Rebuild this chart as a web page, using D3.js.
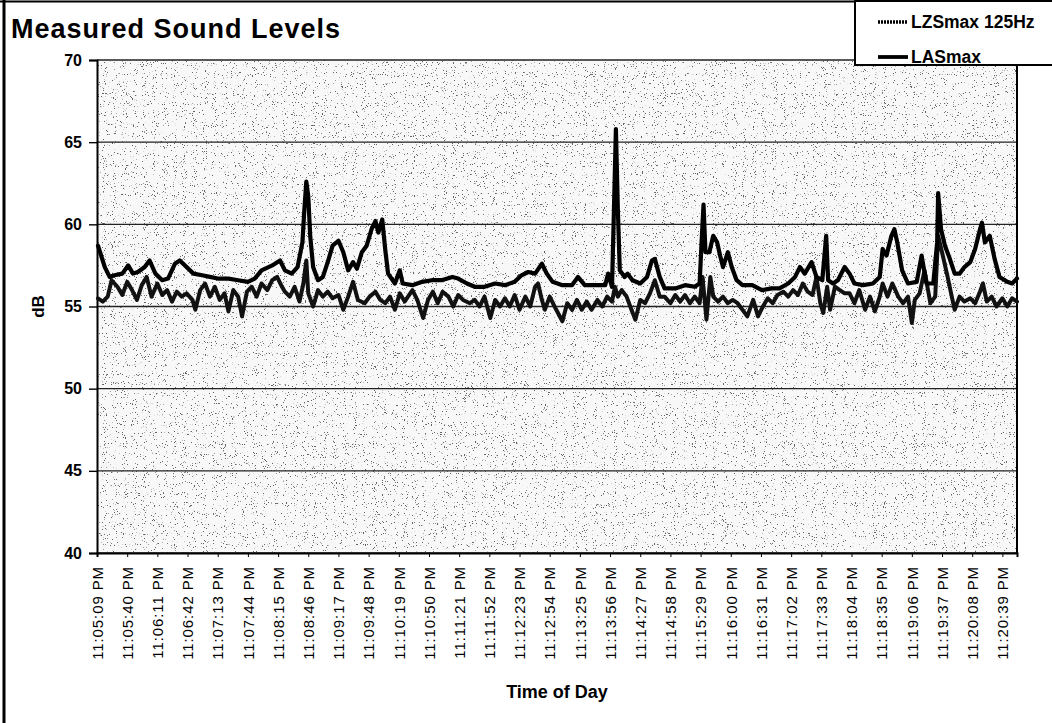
<!DOCTYPE html>
<html lang="en">
<head>
<meta charset="UTF-8">
<title>Measured Sound Levels</title>
<script src="https://d3js.org/d3.v7.min.js"></script>
<style>
    body { margin: 0; background: #fff; }
    svg text { font-family: "Liberation Sans", Arial, sans-serif; fill: #000; }
    .line { fill: none; stroke-linejoin: round; stroke-linecap: round; }
</style>
</head>
<body>
<div id="chart"></div>
<script>
// x tick labels (one every 31 s)
var tickLabels = ["11:05:09 PM", "11:05:40 PM", "11:06:11 PM", "11:06:42 PM", "11:07:13 PM",
    "11:07:44 PM", "11:08:15 PM", "11:08:46 PM", "11:09:17 PM", "11:09:48 PM", "11:10:19 PM",
    "11:10:50 PM", "11:11:21 PM", "11:11:52 PM", "11:12:23 PM", "11:12:54 PM", "11:13:25 PM",
    "11:13:56 PM", "11:14:27 PM", "11:14:58 PM", "11:15:29 PM", "11:16:00 PM", "11:16:31 PM",
    "11:17:02 PM", "11:17:33 PM", "11:18:04 PM", "11:18:35 PM", "11:19:06 PM", "11:19:37 PM",
    "11:20:08 PM", "11:20:39 PM"];

var yTicks = [40, 45, 50, 55, 60, 65, 70];

// LASmax: seconds after 11:05:09 PM, dB
var lasTime = [1, 8, 13, 18, 26, 32, 37, 42, 49, 54, 60, 67, 73, 80, 85, 92, 99, 108, 116, 124,
    135, 145, 155, 162, 169, 180, 188, 193, 200, 206, 211, 213, 215, 217, 219, 222, 227, 232, 237, 242,
    248, 253, 258, 263, 267, 272, 277, 282, 286, 289, 293, 296, 299, 306, 311, 314, 324, 334, 344, 354,
    365, 371, 380, 388, 398, 409, 419, 429, 436, 443, 450, 457, 462, 468, 478, 488, 494, 501, 511, 522,
    525, 529, 531, 533, 535, 537, 542, 545, 550, 558, 565, 570, 573, 578, 583, 594, 604, 614, 619, 621,
    623, 625, 629, 633, 637, 640, 643, 648, 652, 657, 663, 673, 683, 693, 701, 710, 717, 722, 727, 734,
    739, 745, 749, 751, 756, 761, 768, 773, 778, 787, 797, 804, 807, 811, 816, 819, 822, 827, 833, 842,
    847, 852, 859, 863, 864, 867, 871, 876, 881, 886, 891, 897, 902, 907, 909, 912, 917, 922, 927, 935,
    940, 945];
var lasVals = [58.7, 57.4, 56.8, 56.9, 57.0, 57.5, 57.0, 57.1, 57.4, 57.8, 57.0, 56.6, 56.7, 57.6, 57.8, 57.4, 57.0, 56.9, 56.8, 56.7,
    56.7, 56.6, 56.5, 56.7, 57.2, 57.5, 57.8, 57.2, 57.0, 57.4, 58.9, 60.9, 62.6, 61.7, 59.3, 57.4, 56.6, 56.8, 57.7, 58.7,
    59.0, 58.3, 57.2, 57.7, 57.3, 58.3, 58.7, 59.7, 60.2, 59.5, 60.3, 58.5, 57.0, 56.4, 57.2, 56.4, 56.3, 56.5, 56.6, 56.6,
    56.8, 56.7, 56.4, 56.2, 56.2, 56.4, 56.3, 56.5, 56.9, 57.1, 57.0, 57.6, 57.0, 56.5, 56.3, 56.3, 56.8, 56.3, 56.3, 56.3,
    57.0, 56.2, 60.9, 65.8, 60.9, 57.2, 56.8, 57.0, 56.6, 56.4, 56.8, 57.8, 57.9, 56.8, 56.1, 56.1, 56.3, 56.2, 56.4, 58.9,
    61.2, 58.3, 58.3, 59.3, 58.9, 58.1, 57.4, 58.3, 57.4, 56.6, 56.3, 56.3, 56.0, 56.1, 56.1, 56.4, 56.8, 57.4, 57.0, 57.7,
    56.8, 56.6, 59.3, 56.6, 56.4, 56.6, 57.4, 57.0, 56.4, 56.3, 56.4, 56.8, 58.5, 58.1, 59.3, 59.7, 58.9, 57.2, 56.4, 56.5,
    58.1, 56.4, 56.4, 58.9, 61.9, 59.7, 58.7, 57.9, 57.0, 57.0, 57.4, 57.7, 58.5, 59.7, 60.1, 58.9, 59.3, 57.9, 56.8, 56.5,
    56.4, 56.7];

// LZSmax 125Hz: seconds after 11:05:09 PM, dB
var lzsTime = [1, 6, 11, 15, 21, 26, 31, 36, 41, 46, 51, 56, 62, 67, 72, 77, 82, 87, 92, 98,
    101, 106, 111, 116, 121, 126, 131, 135, 140, 145, 149, 154, 159, 164, 169, 175, 180, 185, 190, 193,
    198, 203, 208, 212, 215, 217, 222, 227, 232, 237, 242, 248, 253, 258, 263, 268, 275, 280, 286, 291,
    296, 301, 306, 311, 316, 324, 329, 335, 340, 345, 350, 355, 361, 366, 371, 376, 383, 388, 393, 398,
    404, 409, 414, 419, 424, 429, 434, 440, 445, 450, 453, 457, 460, 465, 470, 478, 483, 488, 493, 498,
    503, 508, 514, 519, 524, 529, 532, 535, 539, 544, 549, 553, 558, 563, 568, 573, 578, 583, 589, 594,
    599, 604, 609, 614, 619, 622, 626, 630, 633, 638, 643, 648, 653, 658, 663, 668, 674, 679, 684, 689,
    694, 699, 705, 710, 715, 720, 725, 730, 735, 739, 743, 746, 750, 753, 758, 763, 768, 773, 778, 783,
    789, 794, 799, 804, 807, 812, 817, 823, 828, 833, 837, 840, 845, 850, 856, 861, 864, 868, 873, 878,
    881, 886, 891, 897, 902, 907, 910, 914, 919, 924, 930, 935, 940, 945];
var lzsVals = [55.5, 55.3, 55.6, 56.6, 56.2, 55.7, 56.5, 56.0, 55.4, 56.3, 56.8, 55.6, 56.4, 55.7, 56.0, 55.3, 55.9, 55.6, 55.8, 55.4,
    54.8, 56.0, 56.4, 55.6, 56.2, 55.4, 55.8, 54.7, 56.0, 55.6, 54.4, 55.9, 56.2, 55.6, 56.4, 56.0, 56.6, 56.8, 56.2, 55.9,
    55.6, 56.2, 55.3, 56.4, 57.8, 55.8, 55.0, 56.0, 55.6, 55.9, 55.5, 55.7, 54.8, 55.6, 56.5, 55.4, 55.2, 55.6, 55.9, 55.4,
    55.2, 55.6, 54.8, 55.8, 55.3, 56.0, 55.4, 54.3, 55.4, 55.9, 55.2, 55.9, 55.6, 55.0, 55.7, 55.4, 55.2, 55.4, 55.0, 55.6,
    54.3, 55.4, 55.0, 55.5, 55.0, 55.7, 54.8, 55.6, 55.0, 56.2, 56.4, 55.4, 54.8, 55.6, 55.0, 54.1, 55.2, 54.8, 55.4, 54.8,
    55.3, 54.8, 55.4, 55.0, 55.6, 55.3, 56.2, 55.6, 56.0, 55.6, 54.8, 54.2, 55.4, 55.2, 55.8, 56.6, 55.6, 55.6, 55.2, 55.7,
    55.3, 55.7, 55.2, 55.6, 55.2, 56.8, 54.2, 56.8, 55.6, 55.3, 55.6, 55.2, 55.4, 55.2, 54.8, 54.4, 55.4, 54.4, 55.0, 55.5,
    55.2, 55.7, 55.9, 55.6, 56.0, 55.7, 56.4, 55.9, 55.7, 56.8, 55.2, 54.6, 56.2, 54.8, 56.2, 56.0, 55.8, 55.8, 55.2, 56.0,
    54.8, 55.6, 54.7, 55.6, 56.4, 55.6, 56.4, 55.6, 55.2, 55.6, 54.0, 55.4, 55.8, 57.2, 55.2, 55.6, 59.3, 58.3, 57.0, 55.6,
    54.8, 55.6, 55.3, 55.5, 55.2, 55.9, 56.4, 55.3, 55.6, 55.0, 55.5, 55.0, 55.5, 55.3];

var W = 1052, H = 723;
var plot = { left: 97, right: 1017, top: 60, bottom: 553 };

function secs(label) {
    var p = label.split(" ")[0].split(":").map(Number);
    return p[0] * 3600 + p[1] * 60 + p[2];
}
var t0 = secs(tickLabels[0]);

var x = d3.scaleLinear().domain([0, 945]).range([plot.left, plot.right]);
var y = d3.scaleLinear().domain([40, 70]).range([plot.bottom, plot.top]);

var svg = d3.select("#chart").append("svg")
    .attr("width", W)
    .attr("height", H);

// scanned-paper speckle
var defs = svg.append("defs");
var f = defs.append("filter").attr("id", "speckle").attr("x", 0).attr("y", 0).attr("width", 1).attr("height", 1);
f.append("feTurbulence").attr("type", "fractalNoise").attr("baseFrequency", 0.9).attr("numOctaves", 2).attr("seed", 7);
f.append("feColorMatrix").attr("type", "matrix")
    .attr("values", "0 0 0 0 0  0 0 0 0 0  0 0 0 0 0  16 0 0 0 -10.6");

svg.append("rect").attr("width", W).attr("height", H).attr("fill", "#fff");

// outer frame
svg.append("line").attr("x1", 4).attr("x2", 4).attr("y1", 0).attr("y2", H)
    .attr("stroke", "#000").attr("stroke-width", 3);
svg.append("line").attr("x1", 0).attr("x2", W).attr("y1", 1.5).attr("y2", 1.5)
    .attr("stroke", "#000").attr("stroke-width", 2);

// plot area
svg.append("rect")
    .attr("x", plot.left).attr("y", plot.top)
    .attr("width", plot.right - plot.left).attr("height", plot.bottom - plot.top)
    .attr("fill", "#f8f8f8");
svg.append("rect")
    .attr("x", plot.left).attr("y", plot.top)
    .attr("width", plot.right - plot.left).attr("height", plot.bottom - plot.top)
    .attr("filter", "url(#speckle)")
    .attr("opacity", 0.6);

// grid
svg.append("g").selectAll("line")
    .data(yTicks)
    .join("line")
    .attr("x1", plot.left).attr("x2", plot.right)
    .attr("y1", function (d) { return y(d); })
    .attr("y2", function (d) { return y(d); })
    .attr("stroke", "#222")
    .attr("stroke-width", 1.4);

svg.append("line").attr("x1", plot.right).attr("x2", plot.right)
    .attr("y1", plot.top).attr("y2", plot.bottom)
    .attr("stroke", "#000").attr("stroke-width", 2);

// y axis
var yAxis = svg.append("g")
    .attr("transform", "translate(" + plot.left + ",0)")
    .call(d3.axisLeft(y).tickValues(yTicks).tickSize(8).tickPadding(7));
yAxis.select(".domain").attr("stroke", "#000").attr("stroke-width", 2);
yAxis.selectAll(".tick line").attr("stroke", "#000").attr("stroke-width", 1.4);
yAxis.selectAll(".tick text")
    .attr("font-size", 16).attr("font-weight", "bold")
    .style("font-family", "Liberation Sans, Arial, sans-serif");

// x axis
var xAxis = svg.append("g")
    .attr("transform", "translate(0," + plot.bottom + ")")
    .call(d3.axisBottom(x)
        .tickValues(tickLabels.map(function (l) { return secs(l) - t0; }))
        .tickFormat(function (d, i) { return tickLabels[i]; })
        .tickSize(4));
xAxis.select(".domain").attr("stroke", "#000").attr("stroke-width", 2);
xAxis.selectAll(".tick line").attr("stroke", "#000");
xAxis.selectAll(".tick text")
    .attr("font-size", 15)
    .style("letter-spacing", "0.9px")
    .style("font-family", "Liberation Sans, Arial, sans-serif")
    .attr("text-anchor", "end")
    .attr("transform", "rotate(-90)")
    .attr("x", -13)
    .attr("y", 0)
    .attr("dy", "0.35em");

// series
var lasData = lasTime.map(function (t, i) { return { t: t, v: lasVals[i] }; });
var lzsData = lzsTime.map(function (t, i) { return { t: t, v: lzsVals[i] }; });
var line = d3.line()
    .x(function (d) { return x(d.t); })
    .y(function (d) { return y(d.v); });

svg.append("path").attr("class", "line")
    .attr("d", line(lzsData))
    .attr("stroke", "#111").attr("stroke-width", 4);
svg.append("path").attr("class", "line")
    .attr("d", line(lasData))
    .attr("stroke", "#000").attr("stroke-width", 4.2);

// titles
svg.append("text")
    .attr("x", 11).attr("y", 38)
    .attr("font-size", 27).attr("font-weight", "bold")
    .style("letter-spacing", "1px")
    .text("Measured Sound Levels");

svg.append("text")
    .attr("transform", "translate(44," + y(55) + ") rotate(-90)")
    .attr("text-anchor", "middle")
    .attr("font-size", 17).attr("font-weight", "bold")
    .text("dB");

svg.append("text")
    .attr("x", (plot.left + plot.right) / 2).attr("y", 698)
    .attr("text-anchor", "middle")
    .attr("font-size", 18).attr("font-weight", "bold")
    .text("Time of Day");

// legend
var lg = svg.append("g");
lg.append("rect")
    .attr("x", 855).attr("y", 1).attr("width", 200).attr("height", 64)
    .attr("fill", "#fff").attr("stroke", "#000").attr("stroke-width", 2);
var legendItems = [
    { name: "LZSmax 125Hz", dash: "2,1", w: 3.4 },
    { name: "LASmax", dash: null, w: 3.8 }
];
legendItems.forEach(function (d, i) {
    var yy = 22 + i * 35;
    lg.append("line")
        .attr("x1", 878).attr("x2", 908).attr("y1", yy).attr("y2", yy)
        .attr("stroke", "#000").attr("stroke-width", d.w)
        .attr("stroke-dasharray", d.dash);
    lg.append("text")
        .attr("x", 911).attr("y", yy).attr("dy", "0.36em")
        .attr("font-size", 17.5).attr("font-weight", "bold")
        .text(d.name);
});
</script>
</body>
</html>
